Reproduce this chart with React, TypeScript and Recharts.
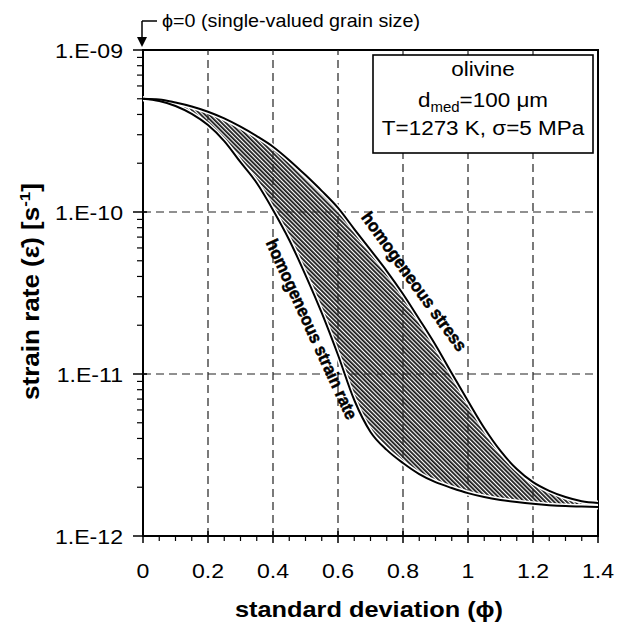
import React from 'react';
import {
  ComposedChart,
  Line,
  Area,
  XAxis,
  YAxis,
  ReferenceLine,
  ReferenceArea,
  ReferenceDot,
  Label,
} from 'recharts';

// ---- data ----
const phi = [0, 0.05, 0.1, 0.15, 0.2, 0.25, 0.3, 0.35, 0.4, 0.45, 0.5, 0.55, 0.6, 0.65, 0.7, 0.75, 0.8, 0.85, 0.9, 0.95, 1, 1.05, 1.1, 1.15, 1.2, 1.25, 1.3, 1.35, 1.4];
const homogeneousStress = [5.0e-10, 4.95e-10, 4.74e-10, 4.48e-10, 4.16e-10, 3.78e-10, 3.36e-10, 2.94e-10, 2.53e-10, 2.09e-10, 1.69e-10, 1.35e-10, 1.06e-10, 7.85e-11, 5.83e-11, 4.32e-11, 3.12e-11, 2.18e-11, 1.51e-11, 1.01e-11, 6.81e-12, 4.64e-12, 3.35e-12, 2.59e-12, 2.15e-12, 1.9e-12, 1.74e-12, 1.64e-12, 1.6e-12];
const homogeneousStrainRate = [5.0e-10, 4.84e-10, 4.51e-10, 4.03e-10, 3.44e-10, 2.74e-10, 2.03e-10, 1.51e-10, 1.03e-10, 6.72e-11, 4.08e-11, 2.38e-11, 1.31e-11, 6.91e-12, 4.39e-12, 3.4e-12, 2.82e-12, 2.41e-12, 2.15e-12, 1.98e-12, 1.84e-12, 1.74e-12, 1.67e-12, 1.62e-12, 1.58e-12, 1.55e-12, 1.53e-12, 1.52e-12, 1.51e-12];

const xTickLabels = ['0', '0.2', '0.4', '0.6', '0.8', '1', '1.2', '1.4'];
const xGridValues = [0.2, 0.4, 0.6, 0.8, 1, 1.2];
const yMajorTicks = [1e-12, 1e-11, 1e-10, 1e-9];
const yTickLabels = ['1.E-12', '1.E-11', '1.E-10', '1.E-09'];
const yGridValues = [1e-11, 1e-10];

const xAllTicks = Array.from({ length: 29 }, (_, i) => (i * 5) / 100);
const yAllTicks: number[] = [];
[-12, -11, -10].forEach((n) => {
  for (let m = 1; m <= 9; m++) yAllTicks.push(Number(`${m}e${n}`));
});
yAllTicks.push(1e-9);

const data = phi.map((p, i) => ({
  phi: p,
  stress: homogeneousStress[i],
  strainRate: homogeneousStrainRate[i],
  band: [homogeneousStrainRate[i], homogeneousStress[i]],
}));

const FONT = '"Liberation Sans", Arial, Helvetica, sans-serif';

const XTick = (p: any) => {
  const { x, y, payload } = p;
  const v = payload.value;
  const k = Math.round(v * 5);
  const major = Math.abs(v * 5 - k) < 1e-6;
  return (
    <g>
      {major ? (
        <line x1={x} y1={y - 5} x2={x} y2={y + 7} stroke="#000" strokeWidth={1.5} />
      ) : (
        <line x1={x} y1={y} x2={x} y2={y + 5} stroke="#000" strokeWidth={1.2} />
      )}
      {major && (
        <g transform={`translate(${x},${y + 42}) scale(1.1,1)`}>
          <text x={0} y={0} textAnchor="middle" fontSize={21} fontFamily={FONT} fill="#000">
            {xTickLabels[k]}
          </text>
        </g>
      )}
    </g>
  );
};

const YTick = (p: any) => {
  const { x, y, payload } = p;
  const idx = yMajorTicks.indexOf(payload.value);
  const major = idx >= 0;
  return (
    <g>
      {major ? (
        <line x1={x - 10} y1={y} x2={x + 4} y2={y} stroke="#000" strokeWidth={1.5} />
      ) : (
        <line x1={x - 6} y1={y} x2={x} y2={y} stroke="#000" strokeWidth={1.2} />
      )}
      {major && (
        <g transform={`translate(${x - 20},${y + 7.5}) scale(1.1,1)`}>
          <text x={0} y={0} textAnchor="end" fontSize={21} fontFamily={FONT} fill="#000">
            {yTickLabels[idx]}
          </text>
        </g>
      )}
    </g>
  );
};

const XTitle = (p: any) => {
  const vb = p.viewBox || { x: 143, y: 536, width: 455, height: 92 };
  return (
    <text
      x={vb.x + vb.width / 2 - 1.5}
      y={vb.y + 81}
      textAnchor="middle"
      fontSize={22}
      fontWeight="bold"
      fontFamily={FONT}
      fill="#000"
      textLength={268}
      lengthAdjust="spacingAndGlyphs"
    >
      standard deviation (ϕ)
    </text>
  );
};

const YTitle = (p: any) => {
  const vb = p.viewBox || { x: 0, y: 50, width: 143, height: 486 };
  const cy = vb.y + vb.height / 2 - 1.5;
  return (
    <text
      transform={`translate(${vb.x + 39},${cy}) rotate(-90)`}
      x={0}
      y={0}
      textAnchor="middle"
      fontSize={23}
      fontWeight="bold"
      fontFamily={FONT}
      fill="#000"
      textLength={217}
      lengthAdjust="spacingAndGlyphs"
    >
      strain rate (ε̇) [s
      <tspan dy={-9} fontSize={15}>-1</tspan>
      <tspan dy={9}>]</tspan>
    </text>
  );
};

const CurveLabel = ({ cx, cy, text, angle, length }: any) => (
  <text
    transform={`translate(${cx},${cy}) rotate(${angle})`}
    x={0}
    y={0}
    textAnchor="middle"
    dominantBaseline="central"
    fontSize={17.5}
    fontWeight="bold"
    fontFamily={FONT}
    fill="#000"
    stroke="#000"
    strokeWidth={0.5}
    textLength={length}
    lengthAdjust="spacingAndGlyphs"
  >
    {text}
  </text>
);

const TopNote = ({ cx, cy }: any) => (
  <g>
    <line x1={cx - 1} y1={cy - 29} x2={cx + 14} y2={cy - 29} stroke="#000" strokeWidth={1.5} />
    <line x1={cx - 1} y1={cy - 29} x2={cx - 1} y2={cy - 12} stroke="#000" strokeWidth={1.5} />
    <polygon points={`${cx - 6},${cy - 13} ${cx + 4},${cy - 13} ${cx - 1},${cy - 3}`} fill="#000" />
    <text
      x={cx + 19}
      y={cy - 23}
      fontSize={18.5}
      fontFamily={FONT}
      fill="#000"
      textLength={258}
      lengthAdjust="spacingAndGlyphs"
    >
      ϕ=0 (single-valued grain size)
    </text>
  </g>
);

const InfoBox = ({ cx, cy }: any) => {
  const mid = cx - 115;
  const common = { textAnchor: 'middle' as const, fontSize: 21, fontFamily: FONT, fill: '#000' };
  return (
    <g>
      <rect x={cx - 225} y={cy + 5} width={220} height={98} fill="#fff" stroke="#000" strokeWidth={1.6} />
      <g transform={`translate(${mid},${cy + 26}) scale(1.07,1)`}>
        <text x={0} y={0} {...common}>olivine</text>
      </g>
      <g transform={`translate(${mid},${cy + 57}) scale(1.07,1)`}>
        <text x={0} y={0} {...common}>
          d<tspan dy={5} fontSize={14}>med</tspan>
          <tspan dy={-5}>=100 μm</tspan>
        </text>
      </g>
      <g transform={`translate(${mid},${cy + 85}) scale(1.07,1)`}>
        <text x={0} y={0} {...common}>T=1273 K, σ=5 MPa</text>
      </g>
    </g>
  );
};

export default function App() {
  return (
    <div style={{ position: 'absolute', left: 0, top: 0, background: '#fff' }}>
      <ComposedChart
        width={626}
        height={628}
        data={data}
        margin={{ top: 50, right: 28, bottom: 0, left: 0 }}
      >
        <defs>
          <pattern id="hatch" patternUnits="userSpaceOnUse" width="3" height="3" patternTransform="rotate(-45)">
            <rect x="0" y="0" width="3" height="3" fill="#fff" />
            <line x1="0.9" y1="0" x2="0.9" y2="3" stroke="#111" strokeWidth="1.75" />
          </pattern>
        </defs>
        <XAxis
          dataKey="phi"
          type="number"
          domain={[0, 1.4]}
          ticks={xAllTicks}
          interval={0}
          tickSize={0}
          tickMargin={0}
          tickLine={false}
          axisLine={false}
          tick={XTick}
          height={92}
          allowDataOverflow
        >
          <Label content={XTitle} />
        </XAxis>
        <YAxis
          type="number"
          scale="log"
          domain={[1e-12, 1e-9]}
          ticks={yAllTicks}
          interval={0}
          tickSize={0}
          tickMargin={0}
          tickLine={false}
          axisLine={false}
          tick={YTick}
          width={143}
          allowDataOverflow
        >
          <Label content={YTitle} />
        </YAxis>

        {xGridValues.map((v) => (
          <ReferenceLine key={`gx${v}`} x={v} stroke="#222" strokeWidth={1.2} strokeDasharray="8 5" />
        ))}
        {yGridValues.map((v) => (
          <ReferenceLine key={`gy${v}`} y={v} stroke="#222" strokeWidth={1.2} strokeDasharray="8 5" />
        ))}

        <Area
          dataKey="band"
          type="monotone"
          stroke="none"
          fill="url(#hatch)"
          fillOpacity={1}
          isAnimationActive={false}
          activeDot={false}
        />
        <Line dataKey="stress" type="monotone" stroke="#fff" strokeWidth={5} dot={false} activeDot={false} isAnimationActive={false} />
        <Line dataKey="strainRate" type="monotone" stroke="#fff" strokeWidth={5} dot={false} activeDot={false} isAnimationActive={false} />
        <Line dataKey="stress" type="monotone" stroke="#000" strokeWidth={2} dot={false} activeDot={false} isAnimationActive={false} />
        <Line dataKey="strainRate" type="monotone" stroke="#000" strokeWidth={2} dot={false} activeDot={false} isAnimationActive={false} />

        <ReferenceArea x1={0} x2={1.4} y1={1e-12} y2={1e-9} fill="none" stroke="#000" strokeWidth={2} ifOverflow="visible" />

        <ReferenceDot
          x={0.8345}
          y={3.72e-11}
          r={0}
          ifOverflow="visible"
          shape={(p: any) => <CurveLabel cx={p.cx} cy={p.cy} text="homogeneous stress" angle={54.3} length={167} />}
        />
        <ReferenceDot
          x={0.519}
          y={1.89e-11}
          r={0}
          ifOverflow="visible"
          shape={(p: any) => <CurveLabel cx={p.cx} cy={p.cy} text="homogeneous strain rate" angle={65.4} length={196} />}
        />
        <ReferenceDot x={0} y={1e-9} r={0} ifOverflow="visible" shape={(p: any) => <TopNote cx={p.cx} cy={p.cy} />} />
        <ReferenceDot x={1.4} y={1e-9} r={0} ifOverflow="visible" shape={(p: any) => <InfoBox cx={p.cx} cy={p.cy} />} />
      </ComposedChart>
    </div>
  );
}
